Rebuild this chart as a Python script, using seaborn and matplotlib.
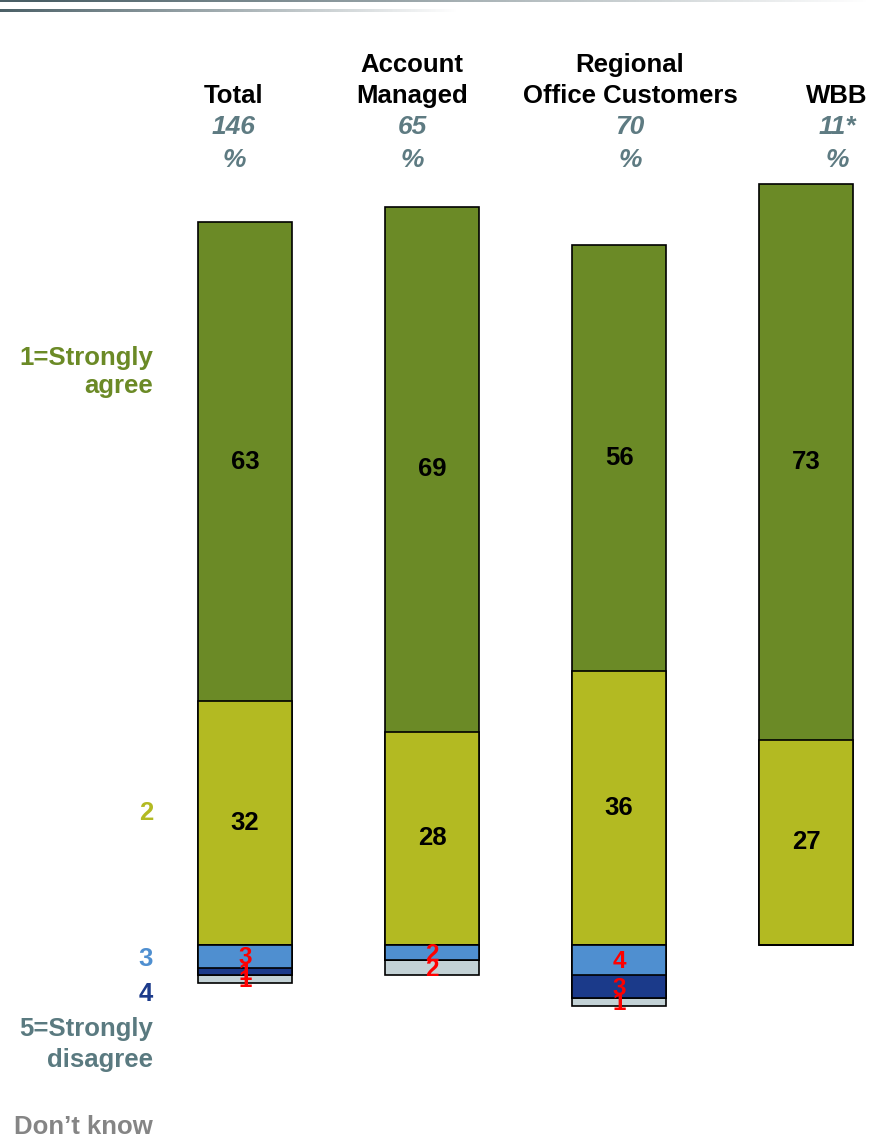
import numpy as np
import pandas as pd
import matplotlib
matplotlib.use("Agg")
import matplotlib.pyplot as plt
import seaborn as sns

# survey data (% of respondents)
groups = ["Total", "Account Managed", "Regional Office Customers", "WBB"]
header_line1 = ["", "Account", "Regional", ""]
header_line2 = ["Total", "Managed", "Office Customers", "WBB"]
base_sizes = ["146", "65", "70", "11*"]
strongly_agree = [63, 69, 56, 73]
agree = [32, 28, 36, 27]
neutral = [3, 2, 4, 0]
disagree = [1, 0, 3, 0]
strongly_disagree = [0, 0, 0, 0]
dont_know = [1, 2, 1, 0]

OLIVE = "#6B8A26"
LIME = "#B3BA22"
LIGHT_BLUE = "#4F8FD0"
DARK_BLUE = "#1B3A8A"
SLATE = "#5A7A80"
PALE = "#C3D2D6"
GREY = "#858585"
FONT = "Liberation Sans"

W, H = 870, 1138


def fx(px):
    return px / W


def fy(py):
    return 1 - py / H


def set_plot_style():
    sns.set_theme(style="white")
    plt.rcParams["font.family"] = [FONT, "DejaVu Sans"]


def draw_layer(ax, values, color):
    df = pd.DataFrame({"group": groups, "value": values})
    sns.barplot(data=df, x="group", y="value", order=groups, color=color,
                saturation=1, width=0.503, edgecolor="black", linewidth=1.2,
                errorbar=None, ax=ax)


def plot_chart():
    set_plot_style()
    fig = plt.figure(figsize=(8.7, 11.38), dpi=100)
    ax = fig.add_axes([0, 0, 1, 1])

    sa = np.array(strongly_agree)
    a = np.array(agree)
    n = np.array(neutral)
    d = np.array(disagree)
    sd = np.array(strongly_disagree)
    dk = np.array(dont_know)

    # positive side stacked upward from 0
    draw_layer(ax, sa + a, OLIVE)
    draw_layer(ax, a, LIME)
    # negative side stacked downward from 0
    draw_layer(ax, -(n + d + sd + dk), PALE)
    draw_layer(ax, -(n + d + sd), SLATE)
    draw_layer(ax, -(n + d), DARK_BLUE)
    draw_layer(ax, -n, LIGHT_BLUE)

    ax.set_xlim(-1.310, 3.342)
    ax.set_ylim(-25.36, 124.18)
    ax.axis("off")

    # value labels
    for i in range(len(groups)):
        ax.text(i, a[i] + sa[i] / 2, str(sa[i]), ha="center", va="center",
                fontsize=18.5, fontweight="bold", color="black")
        ax.text(i, a[i] / 2, str(a[i]), ha="center", va="center",
                fontsize=18.5, fontweight="bold", color="black")
        bottom = 0
        for v in [n[i], d[i], sd[i], dk[i]]:
            if v > 0:
                ax.text(i, -(bottom + v / 2) - 0.2, str(v), ha="center", va="center",
                        fontsize=17.5, fontweight="bold", color="#FF0000")
            bottom += v

    # column headers
    head_x = [234, 412, 630, 837]
    for hx, l1, l2, nb in zip(head_x, header_line1, header_line2, base_sizes):
        if l1:
            fig.text(fx(hx), fy(72), l1, ha="center", va="baseline",
                     fontsize=18.5, fontweight="bold", color="black")
        fig.text(fx(hx), fy(103), l2, ha="center", va="baseline",
                 fontsize=18.5, fontweight="bold", color="black")
        fig.text(fx(hx), fy(134), nb, ha="center", va="baseline",
                 fontsize=19, fontweight="bold", style="italic", color="#5E7B82")
        fig.text(fx(hx), fy(167), "%", ha="center", va="baseline",
                 fontsize=19, fontweight="bold", style="italic", color="#5E7B82")

    # scale labels on the left
    left = [("1=Strongly", 365, OLIVE), ("agree", 393, OLIVE),
            ("2", 820, LIME), ("3", 966, LIGHT_BLUE), ("4", 1001, DARK_BLUE),
            ("5=Strongly", 1036, SLATE), ("disagree", 1067, SLATE),
            ("Don\u2019t know", 1134, GREY)]
    for txt, py, col in left:
        fig.text(fx(153), fy(py), txt, ha="right", va="baseline",
                 fontsize=18.5, fontweight="bold", color=col)

    # decorative header rule
    band = fig.add_axes([0, fy(14), 1, 14 / H])
    grad = np.ones((14, W, 4))
    grad[..., :3] = np.array([0x4a, 0x5f, 0x66]) / 255
    xs = np.linspace(0, 1, W)
    alpha = np.zeros((14, W))
    alpha[0:2, :] = np.clip(1.05 - xs * 1.05, 0, 1)[None, :]
    alpha[9:12, :] = np.clip(1 - xs * 1.9, 0, 1)[None, :]
    grad[..., 3] = alpha
    band.imshow(grad, aspect="auto", interpolation="bilinear")
    band.axis("off")

    fig.savefig("out.png", dpi=100)


if __name__ == "__main__":
    plot_chart()
